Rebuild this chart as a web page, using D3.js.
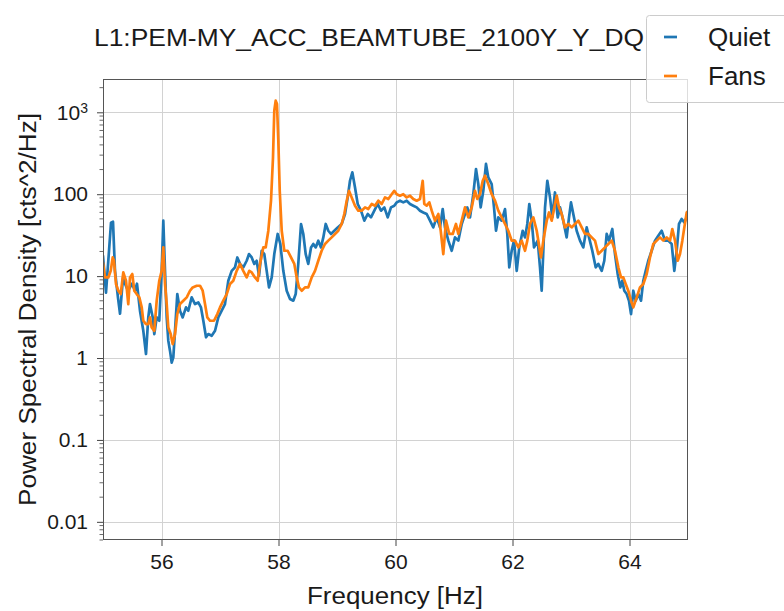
<!DOCTYPE html>
<html>
<head>
<meta charset="utf-8">
<script src="https://cdn.jsdelivr.net/npm/d3@7"></script>
<style>
  body { margin: 0; background: #fff; }
  svg { display: block; }
  text { font-family: "Liberation Sans", Arial, Helvetica, sans-serif; fill: #1a1a1a; }
</style>
</head>
<body>
<svg id="chart" width="784" height="611"></svg>
<script>
// Power spectral density of L1:PEM-MY_ACC_BEAMTUBE_2100Y_Y_DQ under two conditions
const quietFreq = [55.000,55.051,55.103,55.137,55.171,55.205,55.256,55.291,55.342,55.376,55.427,55.496,55.547,55.581,55.632,55.689,55.735,55.774,55.803,55.850,55.877,55.918,55.962,56.003,56.031,56.060,56.089,56.116,56.145,56.174,56.202,56.231,56.270,56.316,56.362,56.419,56.458,56.516,56.573,56.629,56.675,56.715,56.761,56.800,56.858,56.915,56.971,57.029,57.085,57.142,57.200,57.256,57.296,57.342,57.398,57.456,57.496,57.542,57.586,57.627,57.667,57.713,57.757,57.798,57.838,57.884,57.928,57.986,58.031,58.082,58.140,58.197,58.253,58.294,58.338,58.385,58.424,58.465,58.509,58.556,58.595,58.636,58.680,58.726,58.766,58.807,58.851,58.897,58.954,59.012,59.080,59.137,59.183,59.222,59.262,59.308,59.354,59.410,59.467,59.525,59.581,59.638,59.696,59.752,59.809,59.867,59.923,59.979,60.021,60.077,60.133,60.191,60.248,60.304,60.362,60.419,60.475,60.533,60.590,60.646,60.704,60.761,60.807,60.846,60.903,60.961,61.017,61.074,61.132,61.188,61.227,61.274,61.330,61.376,61.415,61.456,61.501,61.547,61.586,61.644,61.684,61.718,61.757,61.815,61.872,61.911,61.945,61.986,62.026,62.072,62.116,62.174,62.214,62.253,62.287,62.328,62.368,62.431,62.470,62.499,62.527,62.556,62.595,62.641,62.680,62.726,62.773,62.812,62.868,62.926,62.966,63.000,63.039,63.097,63.154,63.210,63.268,63.308,63.364,63.422,63.467,63.525,63.569,63.610,63.650,63.706,63.752,63.798,63.843,63.877,63.911,63.952,63.991,64.026,64.065,64.106,64.151,64.197,64.236,64.277,64.321,64.379,64.436,64.492,64.550,64.607,64.663,64.721,64.766,64.807,64.846,64.892,64.937,64.978,65.000];
const quietPsd = [17.7,6.3,20.4,44.9,46.1,11.6,5.45,3.47,9.55,8.07,6.63,8.07,6.63,8.07,3.78,2.15,1.12,3.13,4.56,3.13,1.96,3.13,2.85,11.6,47.5,11.6,3.13,1.63,1.23,0.88,1.02,2.15,6.04,3.78,3.13,4.15,3.78,5.50,4.56,4.77,4.15,2.85,1.79,1.96,1.87,2.15,3.13,3.78,4.56,8.79,11.6,12.8,16.9,14.1,12.8,15.4,18.6,16.9,14.1,15.4,10.1,20.4,18.6,11.6,7.28,9.64,18.6,32.7,24.7,11.6,6.63,5.25,5.01,6.04,14.1,43.3,32.7,18.6,14.1,22.4,24.7,22.4,27.1,22.4,29.7,43.3,35.8,32.7,35.8,39.3,43.3,57.3,91.4,146,185,121,75.9,62.9,47.5,57.3,52.1,62.9,75.9,62.9,69.0,52.1,69.0,72.4,79.4,83.3,79.4,83.3,75.9,72.4,69.0,62.9,59.9,57.3,47.5,39.3,52.1,39.3,65.9,39.3,27.1,20.4,29.7,27.1,43.3,57.3,69.0,52.1,100,203,133,69.0,110,234,160,133,69.0,35.8,52.1,47.5,65.9,32.7,12.8,20.4,27.1,11.6,22.4,35.8,29.7,43.3,75.9,47.5,22.4,27.1,12.8,6.63,20.4,69.0,146,91.4,52.1,105,52.1,69.0,47.5,29.7,52.1,79.4,57.3,35.8,27.1,22.4,39.3,29.7,20.4,12.8,14.1,11.6,15.4,32.7,27.1,37.6,18.6,10.6,7.28,8.79,6.63,6.04,5.01,3.44,6.63,5.01,6.04,5.01,8.79,11.6,15.4,20.4,27.1,31.1,35.8,27.1,27.1,24.7,11.6,20.4,43.3,49.8,45.3,52.1,50];

const fansFreq = [55.000,55.034,55.091,55.132,55.166,55.188,55.222,55.262,55.303,55.347,55.393,55.432,55.462,55.501,55.535,55.576,55.621,55.662,55.689,55.735,55.774,55.803,55.832,55.877,55.918,55.962,56.003,56.031,56.060,56.089,56.116,56.157,56.191,56.231,56.270,56.316,56.373,56.431,56.487,56.533,56.602,56.658,56.704,56.744,56.783,56.829,56.897,56.954,57.000,57.056,57.115,57.171,57.227,57.285,57.342,57.398,57.456,57.501,57.542,57.598,57.644,57.684,57.740,57.781,57.826,57.872,57.906,57.928,57.952,57.974,57.997,58.021,58.055,58.099,58.157,58.214,58.270,58.311,58.350,58.397,58.453,58.509,58.568,58.624,58.680,58.738,58.795,58.851,58.909,58.966,59.022,59.080,59.125,59.166,59.205,59.251,59.308,59.364,59.422,59.479,59.535,59.593,59.650,59.706,59.764,59.821,59.877,59.935,59.979,60.021,60.077,60.133,60.191,60.248,60.304,60.362,60.419,60.465,60.492,60.533,60.578,60.619,60.675,60.732,60.773,60.817,60.863,60.920,60.978,61.034,61.074,61.132,61.188,61.245,61.303,61.359,61.398,61.444,61.491,61.530,61.586,61.644,61.701,61.757,61.815,61.872,61.928,61.986,62.043,62.099,62.157,62.214,62.253,62.299,62.356,62.414,62.487,62.527,62.585,62.624,62.670,62.715,62.756,62.795,62.841,62.897,62.954,63.012,63.068,63.125,63.183,63.239,63.296,63.354,63.410,63.467,63.525,63.581,63.638,63.696,63.752,63.809,63.855,63.894,63.935,63.979,64.026,64.065,64.123,64.179,64.236,64.294,64.350,64.407,64.465,64.521,64.578,64.636,64.692,64.732,64.778,64.824,64.863,64.903,64.937,64.978,65.000];
const fansPsd = [14.6,9.64,9.64,11.6,16.9,15.4,8.01,6.63,6.04,11.1,8.79,4.56,9.64,10.6,6.63,6.04,5.50,4.15,2.85,2.60,2.60,3.13,2.36,2.15,5.01,8.79,11.6,22.4,8.01,4.56,2.36,1.96,1.48,1.96,3.44,4.56,5.01,5.50,6.63,7.28,7.63,7.63,6.63,4.56,3.13,2.85,2.85,3.44,4.15,5.01,6.04,8.01,8.79,11.6,14.1,11.6,9.64,11.6,11.1,9.64,8.79,14.1,22.4,22.4,35.8,83.3,281,1046,1386,1263,450,110,35.8,20.4,20.4,16.9,14.1,9.64,7.28,6.63,7.28,7.28,9.64,11.6,15.4,20.4,24.7,27.1,29.7,32.7,35.8,43.3,57.3,83.3,110,91.4,72.4,62.9,62.9,69.0,65.9,75.9,72.4,83.3,75.9,91.4,87.4,100,110,100,95.9,100,91.4,95.9,87.4,83.3,87.4,146,75.9,72.4,79.4,62.9,47.5,57.3,35.8,18.6,47.5,32.7,32.7,43.3,32.7,47.5,69.0,52.1,69.0,110,87.4,100,146,168,133,100,83.3,62.9,52.1,43.3,35.8,27.1,27.1,22.4,27.1,20.4,27.1,43.3,52.1,35.8,16.9,27.1,47.5,59.9,47.5,69.0,95.9,69.0,57.3,39.3,43.3,39.3,43.3,47.5,39.3,32.7,32.7,29.7,27.1,18.6,20.4,22.4,24.7,27.1,20.4,12.8,9.64,9.64,8.01,6.63,5.01,4.15,5.50,7.28,8.01,10.6,16.9,24.7,27.1,29.7,27.1,29.7,27.1,37.6,27.1,15.4,18.6,27.1,39.3,59.9,62];

const seriesNames = ["Quiet", "Fans"];
const seriesColors = ["#1f77b4", "#ff7f0e"];

const xDomain = [55, 65];
const yDomain = [0.006, 2550];
const xTicks = [56, 58, 60, 62, 64];
const xTickLabels = ["56", "58", "60", "62", "64"];
const yTicks = [0.01, 0.1, 1, 10, 100, 1000];
const yTickLabels = ["0.01", "0.1", "1", "10", "100", "10^3"];

const titleText = "L1:PEM-MY_ACC_BEAMTUBE_2100Y_Y_DQ";
const xLabelText = "Frequency [Hz]";
const yLabelText = "Power Spectral Density [cts^2/Hz]";

// ---- layout ----
const box = { left: 103, right: 688, top: 79, bottom: 540 };
const svg = d3.select("#chart");

const x = d3.scaleLinear().domain(xDomain).range([box.left, box.right]);
const y = d3.scaleLog().domain(yDomain).range([box.bottom, box.top]);

svg.append("defs").append("clipPath").attr("id", "plot-clip")
  .append("rect")
  .attr("x", box.left).attr("y", box.top)
  .attr("width", box.right - box.left).attr("height", box.bottom - box.top);

// grid
const grid = svg.append("g").attr("stroke", "#d2d2d2").attr("stroke-width", 1);
grid.selectAll("line.gx").data(xTicks).join("line")
  .attr("x1", d => Math.round(x(d)) + 0.5).attr("x2", d => Math.round(x(d)) + 0.5)
  .attr("y1", box.top).attr("y2", box.bottom);
grid.selectAll("line.gy").data(yTicks).join("line")
  .attr("y1", d => Math.round(y(d)) + 0.5).attr("y2", d => Math.round(y(d)) + 0.5)
  .attr("x1", box.left).attr("x2", box.right);

// spectra
const series = [
  d3.zip(quietFreq, quietPsd),
  d3.zip(fansFreq, fansPsd)
];
const line = d3.line().x(d => x(d[0])).y(d => y(d[1]));
svg.append("g").attr("clip-path", "url(#plot-clip)")
  .selectAll("path").data(series).join("path")
  .attr("d", line)
  .attr("fill", "none")
  .attr("stroke", (d, i) => seriesColors[i])
  .attr("stroke-width", 2.7)
  .attr("stroke-linejoin", "round")
  .attr("stroke-linecap", "round");

// axes
const xAxis = d3.axisBottom(x).tickValues(xTicks).tickSize(6).tickPadding(8)
  .tickFormat((d, i) => xTickLabels[i]);
const gx = svg.append("g").attr("transform", `translate(0,${box.bottom})`).call(xAxis);

const yAxis = d3.axisLeft(y).tickValues(yTicks).tickSize(6).tickPadding(9)
  .tickFormat((d, i) => yTickLabels[i]);
const gy = svg.append("g").attr("transform", `translate(${box.left},0)`).call(yAxis);

// minor ticks on the log axis
const minor = y.ticks().filter(v => Math.abs(Math.log10(v) - Math.round(Math.log10(v))) > 1e-6);
gy.selectAll("line.minor").data(minor).join("line").attr("class", "minor")
  .attr("x1", -3.5).attr("x2", 0)
  .attr("y1", d => y(d)).attr("y2", d => y(d))
  .attr("stroke", "#444").attr("stroke-width", 0.8);

[gx, gy].forEach(g => {
  g.select(".domain").remove();
  g.selectAll(".tick line").attr("stroke", "#444").attr("stroke-width", 1);
  g.selectAll(".tick text").attr("font-size", 21).attr("fill", "#1a1a1a")
    .attr("font-family", "Liberation Sans, Arial, sans-serif");
});

// superscript exponent labels
gy.selectAll(".tick text").each(function (d, i) {
  const s = yTickLabels[i];
  if (s.includes("^")) {
    const [base, exp] = s.split("^");
    const t = d3.select(this).text(null);
    t.append("tspan").text(base);
    t.append("tspan").attr("dy", "-0.45em").attr("font-size", 14).text(exp);
  }
});

// frame
svg.append("rect")
  .attr("x", box.left + 0.5).attr("y", box.top + 0.5)
  .attr("width", box.right - box.left - 1).attr("height", box.bottom - box.top - 1)
  .attr("fill", "none").attr("stroke", "#555").attr("stroke-width", 1);

// labels
svg.append("text")
  .attr("x", 395).attr("y", 604)
  .attr("text-anchor", "middle").attr("font-size", 23)
  .attr("textLength", 176).attr("lengthAdjust", "spacingAndGlyphs")
  .text(xLabelText);

svg.append("text")
  .attr("transform", `translate(36,${(box.top + box.bottom) / 2}) rotate(-90)`)
  .attr("text-anchor", "middle").attr("font-size", 23)
  .attr("textLength", 393).attr("lengthAdjust", "spacingAndGlyphs")
  .text(yLabelText);

svg.append("text")
  .attr("x", 94).attr("y", 46)
  .attr("font-size", 23)
  .attr("textLength", 550).attr("lengthAdjust", "spacingAndGlyphs")
  .text(titleText);

// legend
const legend = svg.append("g");
legend.append("rect")
  .attr("x", 646.5).attr("y", 15.5).attr("width", 160).attr("height", 87)
  .attr("rx", 3)
  .attr("fill", "#fff").attr("fill-opacity", 0.8)
  .attr("stroke", "#cccccc").attr("stroke-width", 1);
const rows = legend.selectAll("g.row").data(seriesNames).join("g")
  .attr("transform", (d, i) => `translate(0,${37 + i * 39})`);
rows.append("line")
  .attr("x1", 664).attr("x2", 677).attr("y1", 0).attr("y2", 0)
  .attr("stroke", (d, i) => seriesColors[i]).attr("stroke-width", 2.7);
rows.append("text")
  .attr("x", 708).attr("y", 9)
  .attr("font-size", 26)
  .text(d => d);
</script>
</body>
</html>
